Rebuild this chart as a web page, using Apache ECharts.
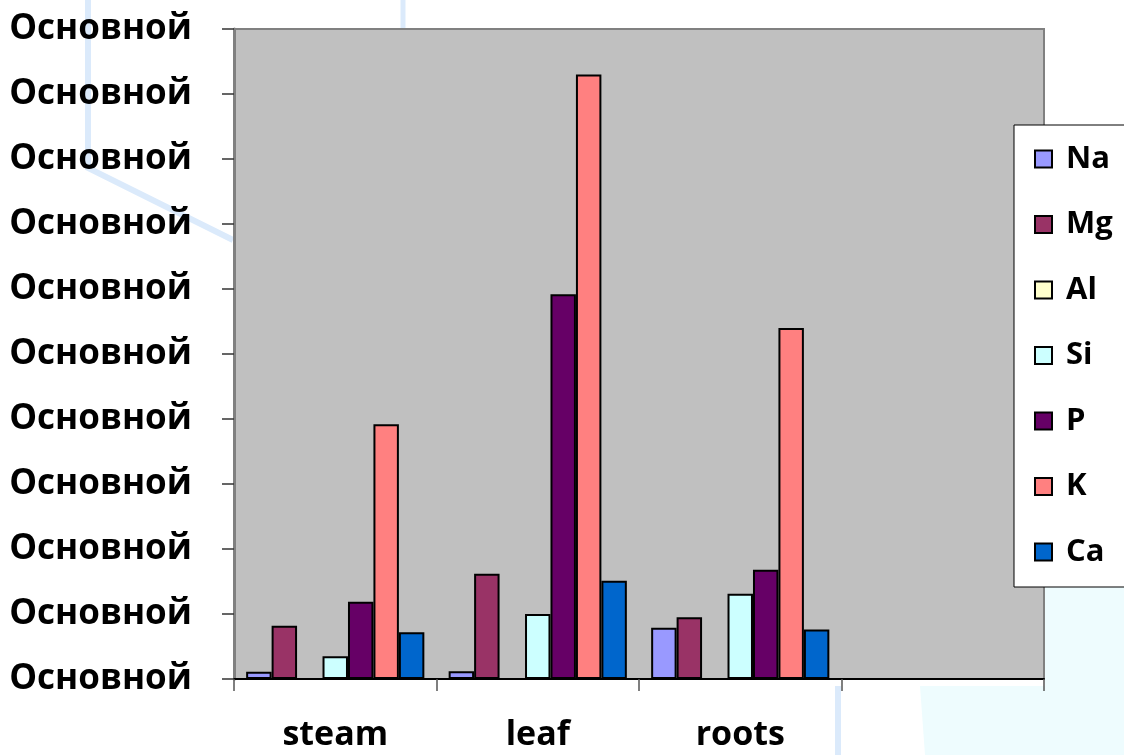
<!DOCTYPE html>
<html>
<head>
<meta charset="utf-8">
<script src="https://cdn.jsdelivr.net/npm/echarts@6/dist/echarts.min.js"></script>
<style>
html,body{margin:0;padding:0;background:#fff;overflow:hidden;}
#chart{width:1124px;height:755px;}
</style>
</head>
<body>
<div id="chart"></div>
<script>
var categories = ['steam', 'leaf', 'roots', ''];
var yTickLabel = 'Основной';
var seriesNames = ['Na', 'Mg', 'Al', 'Si', 'P', 'K', 'Ca'];
var Na = [0.11, 0.12, 0.79, null];
var Mg = [0.82, 1.62, 0.95, null];
var Al = [0, 0, 0, null];
var Si = [0.35, 1.0, 1.31, null];
var P  = [1.19, 5.92, 1.68, null];
var K  = [3.92, 9.30, 5.40, null];
var Ca = [0.72, 1.51, 0.76, null];
var seriesValues = [Na, Mg, Al, Si, P, K, Ca];
var colors = ['#9999FF', '#993366', '#FFFFCC', '#CCFFFF', '#660066', '#FF8080', '#0066CC'];

var chart = echarts.init(document.getElementById('chart'));
var FONT = '"Open Sans", sans-serif';

var series = seriesNames.map(function (n, i) {
  return {
    name: n,
    type: 'bar',
    data: seriesValues[i],
    barGap: '0%',
    barCategoryGap: '12%',
    itemStyle: { color: colors[i], borderColor: '#000', borderWidth: 2 }
  };
});

chart.setOption({
  animation: false,
  backgroundColor: '#ffffff',
  graphic: [
    { type: 'polyline', z: -10, silent: true,
      shape: { points: [[88, 0], [88, 168], [233, 240]] },
      style: { stroke: '#dbeafb', lineWidth: 6, fill: null } },
    { type: 'line', z: -10, silent: true,
      shape: { x1: 403, y1: 0, x2: 403, y2: 29 },
      style: { stroke: '#dbeafb', lineWidth: 5 } },
    { type: 'line', z: -10, silent: true,
      shape: { x1: 838, y1: 686, x2: 838, y2: 755 },
      style: { stroke: '#dbeafb', lineWidth: 6 } },
    { type: 'polygon', z: -11, silent: true,
      shape: { points: [[1045, 587], [1124, 587], [1124, 755], [925, 755], [920, 686], [1045, 686]] },
      style: { fill: '#eefcfe' } }
  ],
  grid: {
    left: 234, top: 29, right: 80, bottom: 70,
    show: true, backgroundColor: '#c0c0c0', borderColor: '#808080', borderWidth: 2
  },
  legend: {
    orient: 'vertical',
    left: 1014, top: 125,
    data: seriesNames,
    icon: 'rect',
    itemWidth: 17, itemHeight: 17,
    itemGap: 31.5,
    padding: [17, 60, 18, 20],
    backgroundColor: '#ffffff',
    borderColor: '#000000',
    borderWidth: 1,
    textStyle: { fontFamily: FONT, fontWeight: 'bold', fontSize: 31, color: '#000', lineHeight: 34, padding: [0, 0, 0, 9] }
  },
  xAxis: {
    type: 'category',
    data: categories,
    axisLine: { lineStyle: { color: '#000', width: 2 } },
    axisTick: { show: true, length: 12, lineStyle: { color: '#555', width: 1.5 } },
    axisLabel: { fontFamily: FONT, fontWeight: 'bold', fontSize: 34, color: '#000', margin: 36, lineHeight: 40 },
    splitLine: { show: false }
  },
  yAxis: {
    type: 'value',
    min: 0, max: 10, interval: 1,
    axisLine: { show: true, lineStyle: { color: '#808080', width: 3 } },
    axisTick: { show: true, length: 12, lineStyle: { color: '#333', width: 1.5 } },
    axisLabel: { fontFamily: FONT, fontWeight: 'bold', fontSize: 35, color: '#000', margin: 42,
      formatter: function () { return yTickLabel; } },
    splitLine: { show: false }
  },
  series: series
});
</script>
</body>
</html>
